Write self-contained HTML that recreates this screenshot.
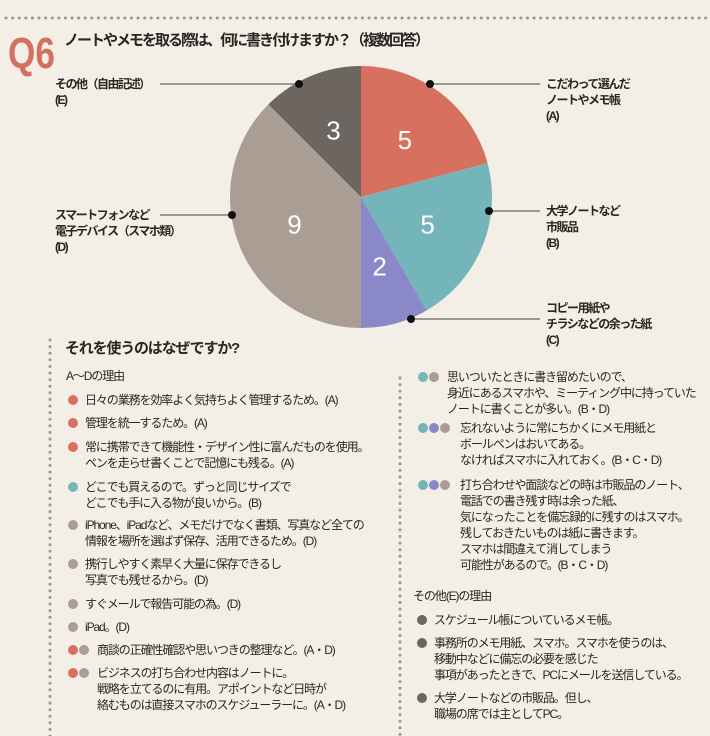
<!DOCTYPE html>
<html><head><meta charset="utf-8"><style>
html,body{margin:0;padding:0;background:#f4efe6;}
svg{display:block;font-family:"Liberation Sans","Noto Sans CJK JP",sans-serif;}
.t{font-size:12px;fill:#2a2522;letter-spacing:-1.1px;}
.lb{font-size:12px;fill:#2a2522;font-weight:bold;letter-spacing:-1.5px;}
</style></head><body>
<svg id="c" width="710" height="736" viewBox="0 0 710 736">
<rect width="710" height="736" fill="#f4efe6"/>
<line x1="6" y1="18" x2="710" y2="18" stroke="#999" stroke-width="3" stroke-dasharray="0.1 6.5" stroke-linecap="round"/>
<text x="10" y="68" font-size="44" font-weight="bold" fill="#d4705f" transform="scale(0.8,1)" style="font-family:'Liberation Sans Narrow','Liberation Sans',sans-serif">Q6</text>
<text x="64" y="45" font-size="15" font-weight="bold" fill="#2a2522" letter-spacing="-2">ノートやメモを取る際は、何に書き付けますか？（複数回答）</text>
<g id="pie"></g>
<g id="labels"></g>

<line x1="50" y1="340" x2="50" y2="736" stroke="#999" stroke-width="3" stroke-dasharray="0.1 6.5" stroke-linecap="round"/>
<line x1="400" y1="378" x2="400" y2="736" stroke="#999" stroke-width="3" stroke-dasharray="0.1 6.5" stroke-linecap="round"/>
<text x="65" y="353" font-size="15" font-weight="bold" fill="#2a2522" letter-spacing="-1.2">それを使うのはなぜですか?</text>
<g id="reasons"></g>
</svg>
<script>
const categories=["A","B","C","D","E"];
const values=[5,5,2,9,3];
const colors=["#d87060","#74b5bb","#8a88c8","#aa9d94","#6d6560"];
const NS="http://www.w3.org/2000/svg";
const cx=361,cy=197,R=131;
const total=values.reduce((a,b)=>a+b,0);
function pt(frac,r){const a=frac*2*Math.PI;return [cx+r*Math.sin(a),cy-r*Math.cos(a)];}
const pie=document.getElementById('pie');
let acc=0;
values.forEach((v,i)=>{
  const s=acc/total,e=(acc+v)/total;acc+=v;
  const p0=pt(s,R),p1=pt(e,R);
  const path=document.createElementNS(NS,'path');
  path.setAttribute('d',`M${cx},${cy}L${p0[0]},${p0[1]}A${R},${R} 0 ${e-s>0.5?1:0} 1 ${p1[0]},${p1[1]}Z`);
  path.setAttribute('fill',colors[i]);
  
  
  pie.appendChild(path);
  const m=pt((s+e)/2,R*0.55);
  const t=document.createElementNS(NS,'text');
  t.setAttribute('x',m[0]);t.setAttribute('y',m[1]+9);
  t.setAttribute('text-anchor','middle');t.setAttribute('font-size','26');t.setAttribute('fill','#fff');
  t.textContent=v;
  
  
  pie.appendChild(t);
});
const labelTexts=[["こだわって選んだ","ノートやメモ帳","(A)"],["大学ノートなど","市販品","(B)"],["コピー用紙や","チラシなどの余った紙","(C)"],["スマートフォンなど","電子デバイス（スマホ類）","(D)"],["その他（自由記述）","(E)"]];
const dots=[[430,84],[489,211],[411,319],[232,215],[299,84]];
const lg=document.getElementById('labels');
function mk(tag,attrs,parent){const e=document.createElementNS(NS,tag);for(const k in attrs)e.setAttribute(k,attrs[k]);parent.appendChild(e);return e;}
labelTexts.forEach((lines,i)=>{
  const [dx,dy]=dots[i];const right=dx>cx;
  const ln=mk('line',{x1:dx,y1:dy,x2:right?540:160,y2:dy,stroke:'#666','stroke-width':1.2},lg);
  
  
  const c=mk('circle',{cx:dx,cy:dy,r:4,fill:'#111'},lg);
  
  
  const tx=right?546:55;const ty0=i===2?312:dy+4;
  lines.forEach((s,j)=>{
    const t=mk('text',{x:tx,y:ty0+j*16,class:'lb'},lg);t.textContent=s;
    
    
  });
});
const C={A:colors[0],B:colors[1],C:colors[2],D:colors[3],E:colors[4]};
const rg=document.getElementById('reasons');
function item(x,y,cols,lines,tx){
  cols.forEach((k,j)=>{const c=mk('circle',{cx:x+j*11,cy:y-4,r:5,fill:C[k]},rg);
    });
  lines.forEach((s,j)=>{const t=mk('text',{x:tx,y:y+j*16,class:'t'},rg);t.textContent=s;
    });
}
let h=mk('text',{x:66,y:380,class:'t'},rg);h.textContent='A〜Dの理由';

item(73,404,['A'],['日々の業務を効率よく気持ちよく管理するため。(A)'],85);
item(73,427,['A'],['管理を統一するため。(A)'],85);
item(73,451,['A'],['常に携帯できて機能性・デザイン性に富んだものを使用。','ペンを走らせ書くことで記憶にも残る。(A)'],85);
item(73,491,['B'],['どこでも買えるので。ずっと同じサイズで','どこでも手に入る物が良いから。(B)'],85);
item(73,529,['D'],['iPhone、iPadなど、メモだけでなく書類、写真など全ての','情報を場所を選ばず保存、活用できるため。(D)'],85);
item(73,568,['D'],['携行しやすく素早く大量に保存できるし','写真でも残せるから。(D)'],85);
item(73,608,['D'],['すぐメールで報告可能の為。(D)'],85);
item(73,631,['D'],['iPad。(D)'],85);
item(73,654,['A','D'],['商談の正確性確認や思いつきの整理など。(A・D)'],97);
item(73,677,['A','D'],['ビジネスの打ち合わせ内容はノートに。','戦略を立てるのに有用。アポイントなど日時が','絡むものは直接スマホのスケジューラーに。(A・D)'],97);
item(423,381,['B','D'],['思いついたときに書き留めたいので、','身近にあるスマホや、ミーティング中に持っていた','ノートに書くことが多い。(B・D)'],447);
item(423,432,['B','C','D'],['忘れないように常にちかくにメモ用紙と','ボールペンはおいてある。','なければスマホに入れておく。(B・C・D)'],460);
item(423,489,['B','C','D'],['打ち合わせや面談などの時は市販品のノート、','電話での書き残す時は余った紙、','気になったことを備忘録的に残すのはスマホ。','残しておきたいものは紙に書きます。','スマホは間違えて消してしまう','可能性があるので。(B・C・D)'],460);
h=mk('text',{x:413,y:600,class:'t'},rg);h.textContent='その他(E)の理由';

item(422,624,['E'],['スケジュール帳についているメモ帳。'],434);
item(422,647,['E'],['事務所のメモ用紙、スマホ。スマホを使うのは、','移動中などに備忘の必要を感じた','事項があったときで、PCにメールを送信している。'],434);
item(422,702,['E'],['大学ノートなどの市販品。但し、','職場の席では主としてPC。'],434);
</script>
</body></html>
